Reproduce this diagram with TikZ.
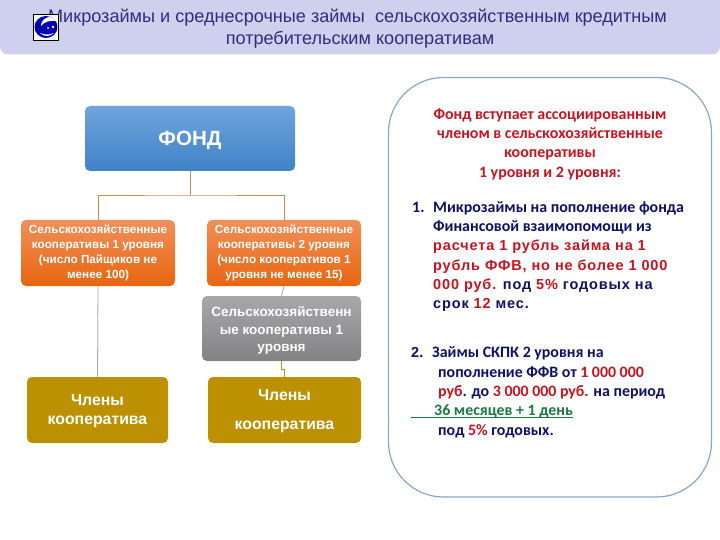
\documentclass[tikz,border=0pt]{standalone}
\usepackage{fontspec}
\setmainfont{Liberation Sans}
\newfontfamily\calfont{Carlito}
\newfontfamily\widefont[LetterSpace=6]{Liberation Sans}
\definecolor{navy}{HTML}{10106A}
\definecolor{redt}{HTML}{C8141E}
\definecolor{greent}{HTML}{1A7A40}
\definecolor{linkc}{HTML}{C98A4E}
\definecolor{fondtop}{HTML}{6FA4DC}
\definecolor{fondbot}{HTML}{3F82C7}
\definecolor{orgtop}{HTML}{F0905A}
\definecolor{orgbot}{HTML}{E8650F}
\definecolor{gretop}{HTML}{A8A8AA}
\definecolor{grebot}{HTML}{828284}
\definecolor{goldc}{HTML}{BC9000}
\definecolor{titlec}{HTML}{2E2E80}
\definecolor{barc}{HTML}{CFCFEE}
\definecolor{panelc}{HTML}{86A9C6}
\tikzset{
 boxbase/.style={rounded corners=5pt,inner sep=0pt,align=center,text=white,font=\bfseries},
 fondbox/.style={boxbase,top color=fondtop,bottom color=fondbot},
 orangebox/.style={boxbase,top color=orgtop,bottom color=orgbot,minimum width=154pt,minimum height=66pt},
 greybox/.style={boxbase,top color=gretop,bottom color=grebot,minimum width=159pt,minimum height=65pt},
 goldbox/.style={boxbase,fill=goldc,minimum height=66pt},
 link/.style={linkc,line width=0.8pt},
 greylink/.style={gray!70,line width=0.8pt},
 panelline/.style={anchor=base west,inner sep=0pt,font=\calfont\bfseries\fontsize{15.9}{15.9}\selectfont,text=navy},
 panelarial/.style={anchor=base west,inner sep=0pt,font=\widefont\bfseries\fontsize{14.5}{14.5}\selectfont,text=navy},
 headline/.style={anchor=base,inner sep=0pt,font=\calfont\bfseries\fontsize{15.9}{15.9}\selectfont,text=redt},
 titleline/.style={anchor=base,inner sep=0pt,font=\fontsize{18.1}{18.1}\selectfont,text=titlec},
}
\begin{document}
\begin{tikzpicture}[x=1pt,y=-1pt]
\useasboundingbox (0,0) rectangle (720,540);
\fill[white] (0,0) rectangle (720,540);
% title bar
\fill[barc,rounded corners=8pt] (0,-10) rectangle (720,54.5);
\node[titleline] (t1) at (357.5,23) {Микрозаймы и среднесрочные займы\ \ сельскохозяйственным кредитным};
\node[titleline] (t2) at (360,45) {потребительским кооперативам};
% logo
\draw[black,fill=white,line width=0.8pt] (33.5,14.5) rectangle (58.5,40);
\fill[blue!70!black] (46,27) ellipse (11.5 and 11);
\fill[white] (50,17) .. controls (45,17) and (41,21) .. (41,26) .. controls (44,22) and (50,20) .. (56,21) .. controls (55,19) and (53,18) .. (50,17);
\fill[white] (40,33) .. controls (44,37) and (50,37) .. (54,33) .. controls (49,35) and (45,35) .. (40,33);
\fill[white] (48,28) circle (1) (53,27) circle (1.3);
% panel
\draw[panelc,line width=1.2pt,rounded corners=55pt] (388.5,77.5) rectangle (711.5,497);
% boxes
\node[fondbox,minimum width=210pt,minimum height=65pt,font=\bfseries\fontsize{20.6}{20.6}\selectfont] (fond) at (190,138.5) {\rule{0pt}{19pt}ФОНД};
\node[orangebox,font=\bfseries\fontsize{11.7}{15}\selectfont] (o1) at (98,253) {Сельскохозяйственные\\кооперативы 1 уровня\\(число Пайщиков не\\менее 100)};
\node[orangebox,font=\bfseries\fontsize{11.7}{15}\selectfont] (o2) at (284,253) {Сельскохозяйственные\\кооперативы 2 уровня\\(число кооперативов 1\\уровня не менее 15)};
\node[greybox,font=\bfseries\fontsize{13.5}{17.5}\selectfont] (g) at (281.5,328.5) {\rule{0pt}{14pt}Сельскохозяйственн\\ые кооперативы 1\\уровня};
\node[goldbox,minimum width=141pt,font=\bfseries\fontsize{15.8}{19}\selectfont] (c1) at (97.5,410) {\rule{0pt}{14pt}Члены\\кооператива};
\node[goldbox,minimum width=153pt,font=\bfseries\fontsize{15.8}{29}\selectfont] (c2) at (284.5,410) {\rule{0pt}{14pt}Члены\\кооператива};
% connectors
\coordinate (j) at (190,195);
\draw[link] (fond.south) -- (j);
\draw[link] (o1.north) |- (j) -| (o2.north);
\draw[greylink] (o1.south) -- (c1.north);
\draw[greylink] (o2.south) -- (g.north);
\draw[link,goldc] (g.south) -- (281.5,369) -- (284.5,369) -- (c2.north);
% panel text
\node[headline] (h1) at (550,120) {Фонд вступает ассоциированным};
\node[headline] (h2) at (550,139) {членом в сельскохозяйственные};
\node[headline] (h3) at (550,158) {кооперативы};
\node[headline] (h4) at (550,178) {1 уровня и 2 уровня:};
\node[panelline] (a0) at (412,212) {1.};
\node[panelline] (a1) at (433,212) {Микрозаймы на пополнение фонда};
\node[panelline] (a2) at (433,231) {Финансовой взаимопомощи из};
\node[panelarial,text=redt] (a3) at (433,251) {расчета 1 рубль займа на 1};
\node[panelarial,text=redt] (a4) at (433,270) {рубль ФФВ, но не более 1 000};
\node[panelarial] (a5) at (433,289) {\textcolor{redt}{000 руб.} под \textcolor{redt}{5\%} годовых на};
\node[panelarial] (a6) at (433,308) {срок \textcolor{redt}{12} мес.};
\node[panelline,font=\bfseries\fontsize{14.5}{14.5}\selectfont] (b0) at (411,357) {2.};
\node[panelline] (b1) at (432,357) {Займы СКПК 2 уровня на};
\node[panelline] (b2) at (438,377) {пополнение ФФВ от \textcolor{redt}{1 000 000}};
\node[panelline] (b3) at (438,396) {\textcolor{redt}{руб}. до \textcolor{redt}{3 000 000 руб.} на период};
\node[panelline,text=greent] (b4) at (434,415) {36 месяцев + 1 день};
\node[panelline] (b5) at (438,435) {под \textcolor{redt}{5\%} годовых.};
\coordinate (u1) at (411,417.5);
\coordinate (u2) at (573,417.5);
\draw[greent,line width=0.7pt] (u1) -- (u2);
\end{tikzpicture}
\end{document}
